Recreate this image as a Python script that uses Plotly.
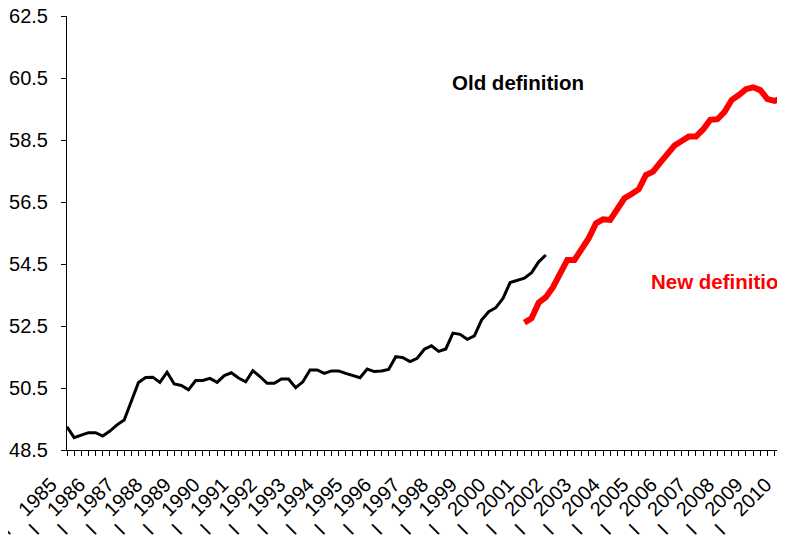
import plotly.graph_objects as go

years = list(range(1985, 2011))
quarters = ["I", "II", "III", "IV"]
categories = [f"{y} {q}" for y in years for q in quarters]

old_definition = [
    49.25, 48.90, 48.98, 49.06, 49.06, 48.95, 49.11, 49.31, 49.47, 50.06,
    50.68, 50.84, 50.85, 50.68, 51.01, 50.63, 50.58, 50.44, 50.74, 50.74,
    50.81, 50.68, 50.90, 50.99, 50.82, 50.70, 51.06, 50.87, 50.65, 50.65,
    50.79, 50.79, 50.51, 50.70, 51.08, 51.08, 50.97, 51.05, 51.05, 50.97,
    50.91, 50.83, 51.11, 51.03, 51.05, 51.10, 51.51, 51.48, 51.35, 51.46,
    51.75, 51.86, 51.68, 51.76, 52.27, 52.23, 52.07, 52.18, 52.69, 52.96,
    53.09, 53.39, 53.90, 53.98, 54.04, 54.22, 54.57, 54.79,
]
new_start = 64
new_definition = [
    52.61, 52.75, 53.25, 53.43, 53.75, 54.15, 54.63, 54.63, 54.95, 55.33,
    55.81, 55.94, 55.92, 56.26, 56.62, 56.76, 56.91, 57.37, 57.48, 57.77,
    58.05, 58.32, 58.47, 58.61, 58.61, 58.84, 59.15, 59.17, 59.41, 59.79,
    59.95, 60.14, 60.20, 60.11, 59.82, 59.76, 59.85, 60.05,
]
y_ticks = [48.5, 50.5, 52.5, 54.5, 56.5, 58.5, 60.5, 62.5]

old_y = old_definition + [None] * (len(categories) - len(old_definition))
new_y = [None] * new_start + new_definition
new_y += [None] * (len(categories) - len(new_y))

year_text = [c.split()[0] if c.endswith(" I") else "" for c in categories]
quarter_text = ["I" if c.endswith(" I") else "" for c in categories]

FONT = "Liberation Sans, Arial"
X_RANGE = [0, 100.46]

fig = go.Figure()
fig.add_trace(go.Scatter(x=categories, y=old_y, mode="lines",
                         line=dict(color="black", width=3), hoverinfo="skip"))
fig.add_trace(go.Scatter(x=categories, y=new_y, mode="lines",
                         line=dict(color="#ff0000", width=6), hoverinfo="skip"))
# carrier trace for the secondary (quarter-label) axis
fig.add_trace(go.Scatter(x=categories, y=old_y, mode="lines", xaxis="x2",
                         line=dict(color="rgba(0,0,0,0)", width=0), hoverinfo="skip"))

fig.add_annotation(x=53.6, y=60.35, xref="x", yref="y", text="<b>Old definition</b>",
                   showarrow=False, xanchor="left", yanchor="middle",
                   font=dict(family=FONT, size=20.5, color="black"))
fig.add_annotation(x=81.4, y=53.92, xref="x", yref="y", text="<b>New definition</b>",
                   showarrow=False, xanchor="left", yanchor="middle",
                   font=dict(family=FONT, size=20.5, color="#ff0000"))

# page body has an 8px margin: the figure is offset by it
fig.update_layout(
    width=777, height=534,
    margin=dict(l=59, r=0, t=8, b=92),
    paper_bgcolor="white", plot_bgcolor="white",
    showlegend=False,
    font=dict(family=FONT, size=20, color="black"),
    xaxis=dict(
        type="category", categoryorder="array", categoryarray=categories,
        range=X_RANGE, automargin=False, ticklabeloverflow="allow",
        tickmode="array", tickvals=categories, ticktext=year_text,
        tickangle=-45, ticks="outside", ticklen=5, tickcolor="black",
        ticklabelstandoff=9, ticklabelshift=-16,
        showline=True, linecolor="black", linewidth=1,
        showgrid=False, zeroline=False, tickfont=dict(size=20),
    ),
    xaxis2=dict(
        type="category", categoryorder="array", categoryarray=categories,
        range=X_RANGE, automargin=False, overlaying="x", anchor="y", side="bottom",
        ticklabeloverflow="allow",
        tickmode="array", tickvals=categories, ticktext=quarter_text,
        tickangle=-45, ticks="", showline=False,
        ticklabelstandoff=64, ticklabelshift=-62,
        showgrid=False, zeroline=False, tickfont=dict(size=20),
    ),
    yaxis=dict(
        range=[48.5, 62.5], tickmode="array", tickvals=y_ticks,
        ticktext=[f"{v:.1f}" for v in y_ticks], automargin=False,
        ticklabeloverflow="allow",
        ticks="outside", ticklen=5, tickcolor="black", ticklabelstandoff=9,
        showline=True, linecolor="black", linewidth=1,
        showgrid=False, zeroline=False, tickfont=dict(size=20),
    ),
)

fig.write_html("out.html")
